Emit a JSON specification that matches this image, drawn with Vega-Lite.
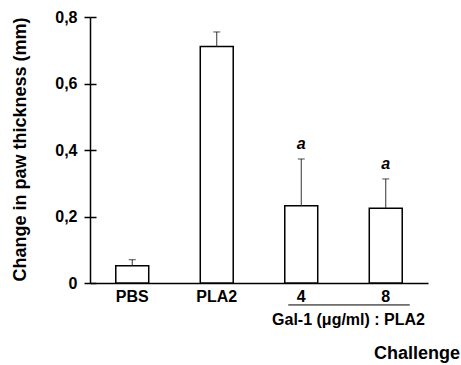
{
  "$schema": "https://vega.github.io/schema/vega-lite/v6.json",
  "width": 338,
  "height": 266,
  "autosize": "none",
  "padding": {"left": 90, "top": 17, "right": 33, "bottom": 82},
  "background": "white",
  "config": {
    "view": {"stroke": null},
    "font": "Liberation Sans",
    "axis": {"grid": false}
  },
  "title": {
    "text": "Challenge",
    "orient": "bottom",
    "anchor": "end",
    "font": "Liberation Sans",
    "fontSize": 18,
    "fontWeight": "bold",
    "color": "black",
    "dx": 32,
    "offset": 18
  },
  "data": {
    "values": [
      {"group": "PBS", "value": 0.052, "hi": 0.07, "sig": ""},
      {"group": "PLA2", "value": 0.711, "hi": 0.755, "sig": ""},
      {"group": "4", "value": 0.232, "hi": 0.373, "sig": "a"},
      {"group": "8", "value": 0.225, "hi": 0.313, "sig": "a"}
    ]
  },
  "encoding": {
    "x": {
      "field": "group",
      "type": "nominal",
      "sort": null,
      "scale": {"paddingInner": 0.61, "paddingOuter": 0.305},
      "axis": {
        "title": "Gal-1 (μg/ml) : PLA2",
        "labelAngle": 0,
        "ticks": false,
        "domainColor": "black",
        "domainWidth": 1.5,
        "labelFont": "Liberation Sans",
        "labelFontSize": 16,
        "labelFontWeight": "bold",
        "labelColor": "black",
        "labelPadding": 5,
        "titleFont": "Liberation Sans",
        "titleFontSize": 16,
        "titleFontWeight": "bold",
        "titleColor": "black",
        "titleX": 258,
        "titleY": 28
      }
    }
  },
  "layer": [
    {
      "mark": {"type": "bar", "fill": "white", "stroke": "black", "strokeWidth": 1.5},
      "encoding": {
        "y": {
          "field": "value",
          "type": "quantitative",
          "scale": {"domain": [0, 0.8]},
          "axis": {
            "title": "Change in paw thickness (mm)",
            "values": [0, 0.2, 0.4, 0.6, 0.8],
            "labelExpr": "datum.value == 0 ? '0' : replace(format(datum.value, '.1f'), '.', ',')",
            "tickSize": 6,
            "tickColor": "black",
            "tickWidth": 1.5,
            "grid": true,
            "gridColor": "black",
            "gridOpacity": 1,
            "gridWidth": 1.5,
            "gridDash": [6, 2000],
            "domainColor": "black",
            "domainWidth": 1.5,
            "labelFont": "Liberation Sans",
            "labelFontSize": 16,
            "labelFontWeight": "bold",
            "labelColor": "black",
            "labelPadding": 7,
            "titleFont": "Liberation Sans",
            "titleFontSize": 18,
            "titleFontWeight": "bold",
            "titleColor": "black",
            "titleX": -70,
            "titleY": 132,
            "titleBaseline": "middle"
          }
        }
      }
    },
    {
      "mark": {"type": "rule", "color": "#333333", "strokeWidth": 1},
      "encoding": {
        "y": {"field": "value", "type": "quantitative"},
        "y2": {"field": "hi"}
      }
    },
    {
      "mark": {"type": "tick", "orient": "horizontal", "size": 7, "thickness": 1, "color": "black"},
      "encoding": {
        "y": {"field": "hi", "type": "quantitative"}
      }
    },
    {
      "transform": [{"filter": "datum.sig != ''"}],
      "mark": {"type": "text", "fontSize": 16, "fontWeight": "bold", "fontStyle": "italic", "font": "Liberation Sans", "color": "black", "dy": -15, "baseline": "middle"},
      "encoding": {
        "y": {"field": "hi", "type": "quantitative"},
        "text": {"field": "sig"}
      }
    },
    {
      "data": {"values": [{"from": "4", "to": "8"}]},
      "mark": {"type": "rule", "color": "black", "strokeWidth": 1, "xOffset": -13, "x2Offset": 24},
      "encoding": {
        "x": {"field": "from", "type": "nominal", "sort": null},
        "x2": {"field": "to"},
        "y": {"datum": -0.066, "type": "quantitative"}
      }
    }
  ]
}
